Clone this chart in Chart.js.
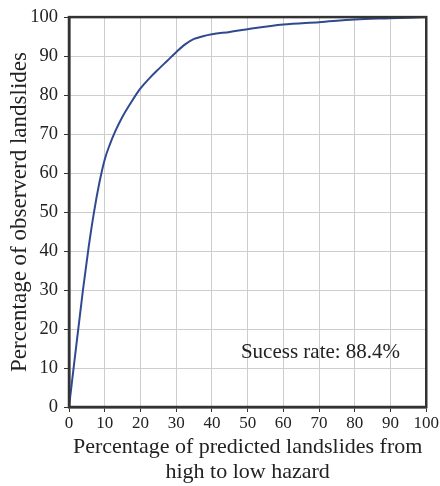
<!DOCTYPE html>
<html>
<head>
<meta charset="utf-8">
<script src="https://cdn.jsdelivr.net/npm/chart.js@4.4.1/dist/chart.umd.min.js"></script>
<style>
  html, body { margin: 0; padding: 0; background: #fff; }
  #wrap { width: 440px; height: 486px; position: relative; }
</style>
</head>
<body>
<div id="wrap"><canvas id="myChart" width="440" height="486"></canvas></div>
<script>
const predicted = [0, 3.9, 5.5, 7.0, 8.5, 10, 11.5, 13, 15, 17.5, 20, 22.5, 25, 27.5, 30, 32.5, 35, 37.5, 40, 45, 50, 60, 70, 80, 90, 100];
const observed  = [0, 30, 41, 50, 57.5, 63.5, 67.5, 70.8, 74.5, 78.3, 81.7, 84.3, 86.6, 88.8, 91, 93, 94.4, 95.1, 95.6, 96.2, 96.9, 98.1, 98.7, 99.4, 99.7, 100];
const xTicks = [0, 10, 20, 30, 40, 50, 60, 70, 80, 90, 100];
const yTicks = [0, 10, 20, 30, 40, 50, 60, 70, 80, 90, 100];
const noteText = "Sucess rate: 88.4%";
const notePos = [70.4, 14]; // en unites du graphique

const serif = "'Liberation Serif', 'Times New Roman', serif";
const ink = "#222";

const points = predicted.map((x, i) => ({ x: x, y: observed[i] }));

// cadre + texte de l'annotation
const framePlugin = {
  id: "frame",
  afterDraw(chart) {
    const ctx = chart.ctx;
    const a = chart.chartArea;
    ctx.save();
    ctx.strokeStyle = "#333";
    ctx.lineWidth = 2.5;
    ctx.strokeRect(a.left, a.top, a.right - a.left, a.bottom - a.top);
    ctx.fillStyle = ink;
    ctx.font = "21px " + serif;
    ctx.textAlign = "center";
    ctx.textBaseline = "middle";
    const px = chart.scales.x.getPixelForValue(notePos[0]);
    const py = chart.scales.y.getPixelForValue(notePos[1]);
    ctx.fillText(noteText, px, py);
    ctx.restore();
  }
};

const config = {
  type: "scatter",
  data: {
    datasets: [{
      data: points,
      showLine: true,
      borderColor: "#2f4a8e",
      borderWidth: 2,
      pointRadius: 0,
      cubicInterpolationMode: "monotone",
      fill: false
    }]
  },
  options: {
    responsive: false,
    animation: false,
    layout: { padding: { top: 15, right: 13, left: 0, bottom: 0 } },
    plugins: { legend: { display: false }, tooltip: { enabled: false } },
    scales: {
      x: {
        type: "linear",
        min: 0, max: 100,
        afterBuildTicks(scale) { scale.ticks = xTicks.map(v => ({ value: v })); },
        afterFit(scale) { scale.height = 79; },
        grid: { color: "#cdcdcd", tickColor: "#333", tickLength: 5, lineWidth: 1 },
        border: { color: "#333", width: 2.5 },
        ticks: { color: ink, font: { family: serif, size: 17 }, padding: 1, maxRotation: 0 },
        title: {
          display: true,
          text: ["Percentage of predicted landslides from", "high to low hazard"],
          color: ink,
          font: { family: serif, size: 22, lineHeight: 1.1 },
          padding: { top: 0, bottom: 2 }
        }
      },
      y: {
        type: "linear",
        min: 0, max: 100,
        afterBuildTicks(scale) { scale.ticks = yTicks.map(v => ({ value: v })); },
        afterFit(scale) { scale.width = 69; },
        grid: { color: "#cdcdcd", tickColor: "#333", tickLength: 5, lineWidth: 1 },
        border: { color: "#333", width: 2.5 },
        ticks: { color: ink, font: { family: serif, size: 18.5 }, padding: 6 },
        title: {
          display: true,
          text: "Percentage of observerd landslides",
          color: ink,
          font: { family: serif, size: 23, lineHeight: 1.2 },
          padding: { top: 6, bottom: 0 }
        }
      }
    }
  },
  plugins: [framePlugin]
};

let context = document.getElementById("myChart").getContext("2d");
let chart = new Chart(context, config);
</script>
</body>
</html>
